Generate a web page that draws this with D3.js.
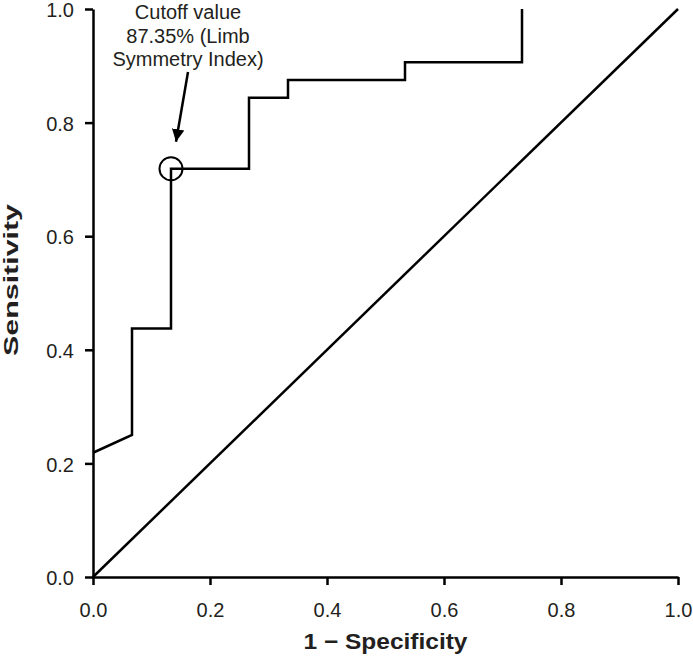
<!DOCTYPE html>
<html><head><meta charset="utf-8">
<script src="https://cdn.jsdelivr.net/npm/d3@7"></script>
<style>body{margin:0;background:#fff}svg{display:block}text{font-family:"Liberation Sans",Arial,sans-serif;fill:#231f20}</style>
</head><body>
<script>
// ROC step curve (1 - specificity, sensitivity)
const fpr = [0, 1/15, 1/15, 2/15, 2/15, 4/15, 4/15, 5/15, 5/15, 8/15, 8/15, 11/15, 11/15];
const tpr = [7/32, 8/32, 14/32, 14/32, 23/32, 23/32, 27/32, 27/32, 28/32, 28/32, 29/32, 29/32, 1.0];
const refLine = [[0, 0], [1, 1]];
const cutoff = {x: 2/15, y: 23/32};
const annotationLines = ["Cutoff value", "87.35% (Limb", "Symmetry Index)"];
const tickValues = [0, 0.2, 0.4, 0.6, 0.8, 1.0];
const xLabel = "1 \u2212 Specificity";
const yLabel = "Sensitivity";

const W = 693, H = 658;
const m = {left: 93, right: 15, top: 9, bottom: 81};
const svg = d3.select("body").append("svg").attr("width", W).attr("height", H);
const x = d3.scaleLinear().domain([0, 1]).range([m.left, W - m.right]);
const y = d3.scaleLinear().domain([0, 1]).range([H - m.bottom, m.top]);
const ink = "#000";

// axes
const xAxis = d3.axisBottom(x).tickValues(tickValues).tickFormat(d3.format(".1f")).tickSize(8).tickSizeOuter(0);
const yAxis = d3.axisLeft(y).tickValues(tickValues).tickFormat(d3.format(".1f")).tickSize(8).tickSizeOuter(0);
const gx = svg.append("g").attr("transform", `translate(0,${y(0)})`).call(xAxis);
const gy = svg.append("g").attr("transform", `translate(${x(0)},0)`).call(yAxis);
[gx, gy].forEach(g => {
  g.select(".domain").attr("stroke", ink).attr("stroke-width", 2.5);
  g.selectAll(".tick line").attr("stroke", ink).attr("stroke-width", 2.5);
  g.selectAll(".tick text").attr("font-size", 20).attr("fill", "#231f20")
    .attr("font-family", "Liberation Sans, Arial, sans-serif");
});
gx.selectAll(".tick text").attr("dy", null).attr("y", 40);
gy.selectAll(".tick text").attr("x", -19).attr("dy", "0.38em");

// reference diagonal
svg.append("path")
  .attr("d", d3.line().x(d => x(d[0])).y(d => y(d[1]))(refLine))
  .attr("fill", "none").attr("stroke", ink).attr("stroke-width", 2.5);

// ROC curve
const pts = fpr.map((f, i) => [f, tpr[i]]);
svg.append("path")
  .attr("d", d3.line().x(d => x(d[0])).y(d => y(d[1]))(pts))
  .attr("fill", "none").attr("stroke", ink).attr("stroke-width", 2.5)
  .attr("stroke-linejoin", "miter");

// cutoff circle
svg.append("circle").attr("cx", x(cutoff.x)).attr("cy", y(cutoff.y)).attr("r", 11.5)
  .attr("fill", "none").attr("stroke", ink).attr("stroke-width", 2);

// arrow
svg.append("defs").append("marker").attr("id", "ah").attr("viewBox", "0 0 10 10")
  .attr("refX", 10).attr("refY", 5).attr("markerWidth", 5).attr("markerHeight", 5.5)
  .attr("markerUnits", "strokeWidth").attr("orient", "auto")
  .append("path").attr("d", "M0,0 L10,5 L0,10 z").attr("fill", ink);
const ax0 = x(cutoff.x) + 17, ay0 = 72;
const ax1 = x(cutoff.x) + 5, ay1 = y(cutoff.y) - 27;
svg.append("line").attr("x1", ax0).attr("y1", ay0).attr("x2", ax1).attr("y2", ay1)
  .attr("stroke", ink).attr("stroke-width", 2.5).attr("marker-end", "url(#ah)");

// annotation
const ann = svg.append("text").attr("text-anchor", "middle").attr("font-size", 20);
annotationLines.forEach((t, i) => {
  ann.append("tspan").attr("x", x(cutoff.x) + 17).attr("y", 19 + i * 23.5).text(t);
});

// axis titles
svg.append("text").attr("x", (x(0) + x(1)) / 2).attr("y", 649).attr("text-anchor", "middle")
  .attr("font-size", 22).attr("font-weight", "bold").attr("textLength", 164)
  .attr("lengthAdjust", "spacingAndGlyphs").text(xLabel);
svg.append("text").attr("transform", "translate(18,280) rotate(-90)")
  .attr("text-anchor", "middle").attr("font-size", 20).attr("font-weight", "bold")
  .attr("textLength", 152).attr("lengthAdjust", "spacingAndGlyphs").text(yLabel);
</script>
</body></html>
